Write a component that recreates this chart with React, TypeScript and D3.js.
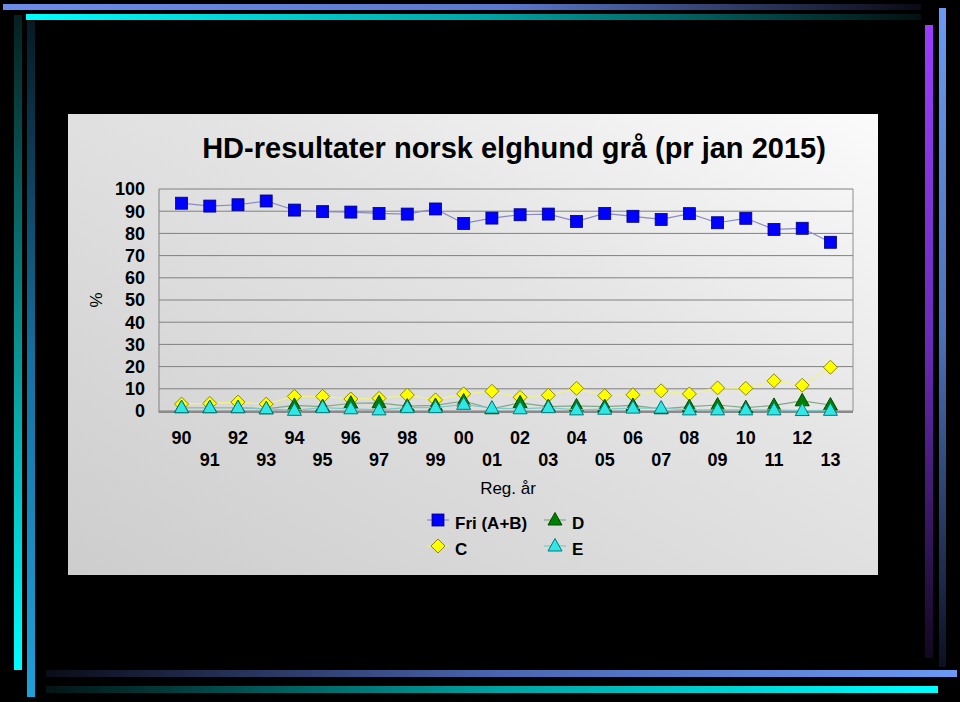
import * as d3 from "d3";

const years = ["90","91","92","93","94","95","96","97","98","99","00","01","02","03","04","05","06","07","08","09","10","11","12","13"];
const fri = [93.6,92.3,92.9,94.6,90.5,89.8,89.6,89.0,88.7,91.0,84.5,86.9,88.4,88.7,85.4,89.0,87.7,86.3,88.9,84.8,86.8,81.8,82.3,76.0];
const cVals = [3.1,3.4,4.0,3.1,6.6,6.6,5.4,5.7,7.2,5.0,7.7,8.9,6.2,7.1,10.2,6.9,7.3,9.1,7.7,10.4,10.2,13.6,11.6,19.7];
const dVals = [1.5,1.5,1.5,1.0,2.5,2.0,3.5,3.7,2.2,2.5,4.5,1.0,3.7,2.0,2.3,2.0,2.5,1.0,2.0,2.7,1.5,2.5,4.6,2.7];
const eVals = [1.5,1.5,1.5,1.0,0.3,1.5,1.0,0.5,1.5,1.5,3.0,1.3,1.0,1.5,0.5,0.8,1.3,1.3,0.5,0.5,0.5,0.5,0.2,0.3];
const yTicks = [0,10,20,30,40,50,60,70,80,90,100];

const W = 960, H = 702;
const plot = { left: 159, right: 853, top: 189, bottom: 411 };
const font = "'Liberation Sans', Arial, sans-serif";

const x = d3.scalePoint<string>().domain(years).range([plot.left, plot.right]).padding(0.8);
const y = d3.scaleLinear().domain([0, 100]).range([plot.bottom, plot.top]);

type Mk = "square" | "diamond" | "tri";
const series: { name: string; values: number[]; mk: Mk; fill: string; stroke: string; line: string }[] = [
  { name: "Fri (A+B)", values: fri, mk: "square", fill: "#0000ff", stroke: "#00007a", line: "#8a8ac0" },
  { name: "C", values: cVals, mk: "diamond", fill: "#ffff00", stroke: "#8a8a00", line: "#f2f28a" },
  { name: "D", values: dVals, mk: "tri", fill: "#008000", stroke: "#004a00", line: "#80a888" },
  { name: "E", values: eVals, mk: "tri", fill: "#33e6e6", stroke: "#007a7a", line: "#7fc8c8" },
];

const marker = (mk: Mk, cx: number, cy: number, fill: string, stroke: string, key: string) => {
  if (mk === "square")
    return <rect key={key} x={cx - 6} y={cy - 6} width={12} height={12} fill={fill} stroke={stroke} strokeWidth={0.8} />;
  if (mk === "diamond")
    return <path key={key} d={`M${cx},${cy - 7}L${cx + 7},${cy}L${cx},${cy + 7}L${cx - 7},${cy}Z`} fill={fill} stroke={stroke} strokeWidth={1} />;
  return <path key={key} d={`M${cx},${cy - 7.5}L${cx + 7},${cy + 5}L${cx - 7},${cy + 5}Z`} fill={fill} stroke={stroke} strokeWidth={1} />;
};

const bars = [
  // [x, y, w, h, gradient id]
  { x: 3, y: 4, w: 918, h: 6, g: "gTopBlue" },
  { x: 26, y: 14, w: 895, h: 6, g: "gTopCyan" },
  { x: 14, y: 15, w: 8, h: 655, g: "gLeftCyan" },
  { x: 27, y: 21, w: 8, h: 676, g: "gLeftBlue" },
  { x: 925, y: 25, w: 8, h: 633, g: "gRightPurple" },
  { x: 939, y: 8, w: 7, h: 659, g: "gRightBlue" },
  { x: 46, y: 670, w: 911, h: 7, g: "gBotBlue" },
  { x: 46, y: 686, w: 892, h: 7, g: "gBotCyan" },
];

export default function App() {
  const line = d3.line<number>().x((_, i) => x(years[i])!).y((d) => y(d));
  return (
    <svg width={W} height={H} style={{ position: "absolute", left: 0, top: 0, background: "#000" }}>
      <defs>
        <linearGradient id="gTopBlue" x1="0" x2="1" y1="0" y2="0">
          <stop offset="0" stopColor="#6b8ce8" />
          <stop offset="0.55" stopColor="#5a78cc" />
          <stop offset="1" stopColor="#0a0a14" />
        </linearGradient>
        <linearGradient id="gTopCyan" x1="0" x2="1" y1="0" y2="0">
          <stop offset="0" stopColor="#00ffff" />
          <stop offset="0.5" stopColor="#00a8a8" />
          <stop offset="1" stopColor="#041010" />
        </linearGradient>
        <linearGradient id="gLeftCyan" x1="0" x2="0" y1="0" y2="1">
          <stop offset="0" stopColor="#062020" />
          <stop offset="0.5" stopColor="#0a9090" />
          <stop offset="1" stopColor="#00ffff" />
        </linearGradient>
        <linearGradient id="gLeftBlue" x1="0" x2="0" y1="0" y2="1">
          <stop offset="0" stopColor="#061a24" />
          <stop offset="0.5" stopColor="#1470a0" />
          <stop offset="1" stopColor="#1ea0d8" />
        </linearGradient>
        <linearGradient id="gRightPurple" x1="0" x2="0" y1="0" y2="1">
          <stop offset="0" stopColor="#9b3cff" />
          <stop offset="0.5" stopColor="#6a2ab8" />
          <stop offset="1" stopColor="#120820" />
        </linearGradient>
        <linearGradient id="gRightBlue" x1="0" x2="0" y1="0" y2="1">
          <stop offset="0" stopColor="#6a9af2" />
          <stop offset="0.5" stopColor="#4a70b8" />
          <stop offset="1" stopColor="#0c1020" />
        </linearGradient>
        <linearGradient id="gBotBlue" x1="0" x2="1" y1="0" y2="0">
          <stop offset="0" stopColor="#0a0c18" />
          <stop offset="0.5" stopColor="#4a66b0" />
          <stop offset="1" stopColor="#6a9af2" />
        </linearGradient>
        <linearGradient id="gBotCyan" x1="0" x2="1" y1="0" y2="0">
          <stop offset="0" stopColor="#041414" />
          <stop offset="0.5" stopColor="#00a0a0" />
          <stop offset="1" stopColor="#00ffff" />
        </linearGradient>
        <linearGradient id="gPanel" x1="0" x2="1" y1="1" y2="0">
          <stop offset="0" stopColor="#cdcdcd" />
          <stop offset="0.6" stopColor="#e4e4e4" />
          <stop offset="1" stopColor="#fbfbfb" />
        </linearGradient>
      </defs>

      {bars.map((b, i) => (
        <rect key={i} x={b.x} y={b.y} width={b.w} height={b.h} fill={`url(#${b.g})`} />
      ))}

      <rect x={68} y={114} width={810} height={461} fill="url(#gPanel)" />

      <text x={514} y={158} textAnchor="middle" fontFamily={font} fontWeight="bold" fontSize={29} fill="#000">
        HD-resultater norsk elghund grå (pr jan 2015)
      </text>

      {/* grid */}
      {yTicks.map((t) => (
        <line key={t} x1={plot.left} x2={plot.right} y1={y(t)} y2={y(t)} stroke="#808080" strokeWidth={1} />
      ))}
      <line x1={plot.right} x2={plot.right} y1={plot.top} y2={plot.bottom} stroke="#909090" />
      <line x1={plot.left} x2={plot.left} y1={plot.top} y2={plot.bottom + 2} stroke="#808080" />
      <line x1={plot.left} x2={plot.right} y1={plot.bottom + 1} y2={plot.bottom + 1} stroke="#8a8a8a" strokeWidth={2} />

      {yTicks.map((t) => (
        <text key={t} x={145} y={y(t)} dy="0.36em" textAnchor="end" fontFamily={font} fontWeight="bold" fontSize={18} fill="#000">
          {t}
        </text>
      ))}
      {years.map((yr, i) => (
        <text key={yr} x={x(yr)} y={i % 2 === 0 ? 444 : 466} textAnchor="middle" fontFamily={font} fontWeight="bold" fontSize={18} fill="#000">
          {yr}
        </text>
      ))}

      <text x={508} y={494} textAnchor="middle" fontFamily={font} fontSize={17} fill="#000">Reg. år</text>
      <text transform="translate(102,300) rotate(-90)" textAnchor="middle" fontFamily={font} fontSize={17} fill="#000">%</text>

      {series.map((s) => (
        <g key={s.name}>
          <path d={line(s.values) ?? ""} fill="none" stroke={s.line} strokeWidth={1.2} />
          {s.values.map((v, i) => marker(s.mk, x(years[i])!, y(v), s.fill, s.stroke, `${s.name}${i}`))}
        </g>
      ))}

      {/* legend */}
      {series.map((s, i) => {
        const lx = i === 2 || i === 3 ? 555 : 438;
        const ly = i === 0 || i === 2 ? 520 : 546;
        return (
          <g key={s.name}>
            <line x1={lx - 11} x2={lx + 11} y1={ly} y2={ly} stroke={s.line} strokeWidth={1.2} />
            {marker(s.mk, lx, ly, s.fill, s.stroke, "lg")}
            <text x={lx + 17} y={ly + 4} dy="0.3em" fontFamily={font} fontWeight="bold" fontSize={17} fill="#000">
              {s.name}
            </text>
          </g>
        );
      })}
    </svg>
  );
}
